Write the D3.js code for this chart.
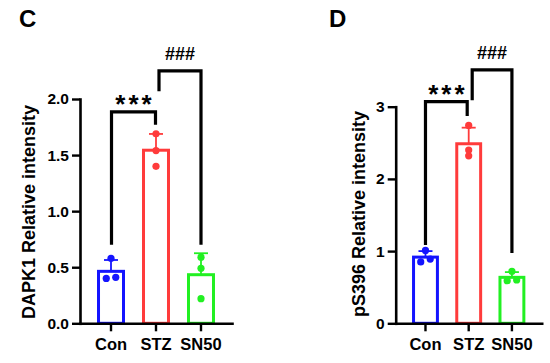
<!DOCTYPE html>
<html>
<head>
<meta charset="utf-8">
<title>DAPK1 / pS396</title>
<script src="https://d3js.org/d3.v7.min.js"></script>
<style>
  body { margin: 0; background: #fff; }
  svg text { font-family: "Liberation Sans", Arial, sans-serif; font-weight: bold; fill: #000; }
</style>
</head>
<body>
<div id="chart"></div>
<script>
// data
var groups = ["Con", "STZ", "SN50"];
var colors = ["#1414ff", "#ff3b3b", "#22f022"];

// panel C: DAPK1, three replicates per group
var dapk1Con = [0.58, 0.41, 0.40];
var dapk1Stz = [1.69, 1.54, 1.40];
var dapk1Sn50 = [0.59, 0.49, 0.22];
var dapk1Ticks = [0, 0.5, 1.0, 1.5, 2.0];

// panel D: pS396
var ps396Con = [1.01, 0.89, 0.85];
var ps396Stz = [2.74, 2.40, 2.32];
var ps396Sn50 = [0.72, 0.60, 0.59];
var ps396Ticks = [0, 1, 2, 3];

// significance brackets: [from group, to group, label]
var sigPairs = [[0, 1, "***"], [1, 2, "###"]];

var svg = d3.select("#chart").append("svg")
    .attr("width", 550)
    .attr("height", 363);

// sd helper
function sd(v) {
  var m = d3.mean(v);
  return Math.sqrt(d3.sum(v, function(d) { return (d - m) * (d - m); }) / (v.length - 1));
}

function drawPanel(p) {
  var g = svg.append("g");

  var y = d3.scaleLinear().domain(p.domain).range([p.bottom, p.top]);
  var x = d3.scaleBand().domain(groups)
      .range([p.left, p.right])
      .paddingInner(0.378).paddingOuter(0.378);
  var cx = function(i) { return x(groups[i]) + x.bandwidth() / 2; };

  // bars
  p.values.forEach(function(vals, i) {
    var m = d3.mean(vals), s = sd(vals);
    var bw = x.bandwidth() - 3;
    g.append("rect")
        .attr("x", cx(i) - bw / 2)
        .attr("y", y(m))
        .attr("width", bw)
        .attr("height", y(0) - y(m))
        .attr("fill", "#fff")
        .attr("stroke", colors[i])
        .attr("stroke-width", 3);

    // error bar (mean + SD)
    g.append("line")
        .attr("x1", cx(i)).attr("x2", cx(i))
        .attr("y1", y(m)).attr("y2", y(m + s))
        .attr("stroke", colors[i]).attr("stroke-width", 1.8);
    g.append("line")
        .attr("x1", cx(i) - 7).attr("x2", cx(i) + 7)
        .attr("y1", y(m + s)).attr("y2", y(m + s))
        .attr("stroke", colors[i]).attr("stroke-width", 1.8);

    // points, nudged sideways when they overlap
    var sorted = vals.slice().sort(d3.ascending);
    var clusters = [];
    sorted.forEach(function(v) {
      var last = clusters[clusters.length - 1];
      if (last && Math.abs(y(v) - y(last[last.length - 1])) < 4.5) last.push(v);
      else clusters.push([v]);
    });
    clusters.forEach(function(c) {
      c.forEach(function(v, k) {
        var off = (k - (c.length - 1) / 2) * 9.5;
        g.append("circle")
            .attr("cx", cx(i) + off)
            .attr("cy", y(v))
            .attr("r", 3.6)
            .attr("fill", colors[i]);
      });
    });
  });

  // axes
  var yAxis = g.append("g")
      .attr("transform", "translate(" + p.left + ",0)")
      .call(d3.axisLeft(y).tickValues(p.ticks).tickFormat(p.fmt)
        .tickSize(8).tickSizeOuter(0).tickPadding(3));
  var xAxis = g.append("g")
      .attr("transform", "translate(0," + p.bottom + ")")
      .call(d3.axisBottom(x).tickSize(8).tickSizeOuter(0).tickPadding(7));
  [yAxis, xAxis].forEach(function(a) {
    a.select(".domain").attr("stroke", "#000").attr("stroke-width", 2.6).attr("stroke-linecap", "square");
    a.selectAll(".tick line").attr("stroke", "#000").attr("stroke-width", 2.4);
    a.selectAll("text").attr("font-family", null).style("font-size", null);
  });
  yAxis.selectAll("text").style("font-size", "15.5px");
  xAxis.selectAll("text").style("font-size", "16.5px");

  // y label
  g.append("text")
      .attr("transform", "translate(" + p.labelX + "," + p.labelY + ") rotate(-90)")
      .attr("text-anchor", "middle")
      .style("font-size", "18px")
      .text(p.ylabel);

  // panel letter
  g.append("text")
      .attr("x", p.letterX).attr("y", 27)
      .style("font-size", "24px")
      .text(p.letter);

  // brackets
  sigPairs.forEach(function(sp, k) {
    var b = p.brackets[k];
    var x1 = cx(sp[0]) + b.dx1, x2 = cx(sp[1]) + b.dx2;
    g.append("path")
        .attr("d", "M" + x1 + "," + y(b.drop1) + "V" + y(b.level) + "H" + x2 + "V" + y(b.drop2))
        .attr("fill", "none")
        .attr("stroke", "#000")
        .attr("stroke-width", 3.2)
        .attr("stroke-linejoin", "miter");
    var t = g.append("text")
        .attr("x", (x1 + x2) / 2)
        .attr("text-anchor", "middle")
        .text(sp[2]);
    if (sp[2] === "***") {
      t.attr("y", y(b.level) + 1).style("font-size", "26px").style("letter-spacing", "3px")
        .attr("dx", 1.5);
    } else {
      t.attr("y", y(b.level) - 11).style("font-size", "18px");
    }
  });
}

drawPanel({
  values: [dapk1Con, dapk1Stz, dapk1Sn50],
  ticks: dapk1Ticks, fmt: d3.format(".1f"), domain: [0, 2],
  left: 80, right: 232, top: 99, bottom: 323.3,
  ylabel: "DAPK1 Relative intensity", labelX: 35, labelY: 212,
  letter: "C", letterX: 19,
  brackets: [
    {level: 1.885, drop1: 0.70, drop2: 1.77, dx1: 0.5, dx2: -0.5},
    {level: 2.25, drop1: 2.07, drop2: 0.70, dx1: 3, dx2: 0}
  ]
});

drawPanel({
  values: [ps396Con, ps396Stz, ps396Sn50],
  ticks: ps396Ticks, fmt: d3.format("d"), domain: [0, 3],
  left: 395.7, right: 541.7, top: 106.7, bottom: 323.3,
  ylabel: "pS396 Relative intensity", labelX: 365, labelY: 214,
  letter: "D", letterX: 329,
  brackets: [
    {level: 3.07, drop1: 1.085, drop2: 2.87, dx1: 0, dx2: -1.5},
    {level: 3.51, drop1: 3.09, drop2: 0.975, dx1: 3.5, dx2: 0}
  ]
});
</script>
</body>
</html>
